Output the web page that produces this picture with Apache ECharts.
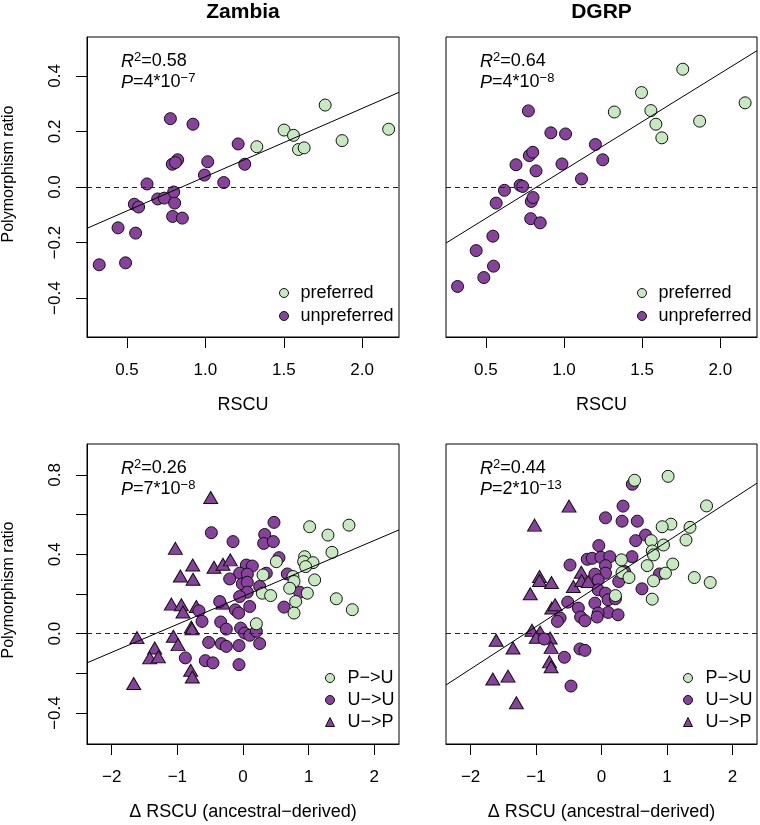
<!DOCTYPE html>
<html><head><meta charset="utf-8">
<script src="https://cdn.jsdelivr.net/npm/echarts@6/dist/echarts.min.js"></script>
<style>html,body{margin:0;padding:0;background:#fff}#c{width:760px;height:825px}</style>
</head><body><div id="c"></div><script>
// ---------------- DATA ----------------
// Top panels: RSCU vs polymorphism ratio
const zamPref = [[1.328,0.145],[1.502,0.205],[1.562,0.186],[1.594,0.135],[1.630,0.141],[1.764,0.295],[1.872,0.167],[2.169,0.208]];
const zamUnpref = [[0.777,0.246],[0.921,0.226],[1.209,0.155],[1.015,0.091],[1.251,0.082],[0.823,0.098],[0.789,0.082],[0.809,0.088],[0.994,0.043],[1.117,0.016],[0.628,0.011],[0.798,-0.018],[0.696,-0.043],[0.738,-0.040],[0.804,-0.058],[0.547,-0.062],[0.574,-0.072],[0.791,-0.106],[0.853,-0.112],[0.443,-0.147],[0.555,-0.166],[0.323,-0.280],[0.491,-0.273]];
const dgrpPref = [[1.322,0.270],[1.496,0.340],[1.556,0.275],[1.588,0.226],[1.626,0.177],[1.760,0.424],[1.868,0.237],[2.159,0.303]];
const dgrpUnpref = [[0.772,0.274],[0.916,0.195],[1.010,0.191],[1.201,0.153],[1.248,0.098],[0.778,0.113],[0.800,0.125],[0.693,0.080],[0.821,0.058],[0.987,0.083],[1.112,0.029],[0.719,0.006],[0.736,0.002],[0.619,-0.012],[0.566,-0.058],[0.791,-0.052],[0.802,-0.038],[0.787,-0.114],[0.848,-0.129],[0.545,-0.177],[0.438,-0.229],[0.549,-0.285],[0.487,-0.326],[0.319,-0.358]];
// Bottom panels: delta RSCU vs polymorphism ratio
const zamPU = [[1.015,0.539],[1.294,0.497],[1.614,0.547],[1.355,0.410],[0.939,0.388],[0.924,0.363],[1.066,0.358],[0.508,0.363],[0.954,0.338],[0.305,0.296],[1.091,0.271],[0.761,0.288],[0.777,0.263],[0.711,0.229],[0.294,0.204],[0.421,0.192],[0.980,0.204],[0.802,0.162],[1.421,0.176],[1.665,0.121],[0.777,0.104],[0.203,0.050]];
const zamUU = [[-0.482,0.509],[-0.152,0.464],[0.472,0.561],[0.330,0.500],[0.315,0.455],[0.462,0.464],[0.548,0.383],[0.051,0.346],[0.142,0.341],[-0.051,0.305],[0.066,0.300],[-0.203,0.276],[-0.010,0.251],[0.066,0.259],[0.254,0.238],[0.355,0.305],[0.675,0.301],[0.863,0.209],[0.066,0.209],[-0.051,0.187],[-0.355,0.162],[0.102,0.137],[-0.117,0.120],[-0.066,0.104],[0.624,0.134],[-0.670,0.115],[-0.624,0.062],[-0.340,0.059],[-0.254,0.023],[-0.036,0.028],[0.025,0.003],[0.102,-0.008],[0.203,0.012],[0.254,-0.050],[-0.523,-0.044],[-0.330,-0.050],[-0.254,-0.064],[-0.061,-0.060],[-0.878,-0.122],[-0.574,-0.136],[-0.457,-0.147],[-0.061,-0.156]];
const zamUP = [[-0.492,0.686],[-1.030,0.430],[-0.766,0.346],[-0.954,0.291],[-0.761,0.274],[-0.442,0.335],[-0.305,0.350],[-0.193,0.372],[-1.091,0.149],[-0.939,0.146],[-0.914,0.109],[-0.711,0.137],[-0.305,0.154],[-0.787,0.033],[-0.777,0.025],[-1.061,-0.013],[-0.990,-0.055],[-1.614,-0.020],[-1.345,-0.072],[-1.421,-0.122],[-1.289,-0.117],[-0.797,-0.184],[-0.772,-0.218],[-1.665,-0.251]];
const dgrpPU = [[0.506,0.773],[1.018,0.793],[1.605,0.644],[1.061,0.552],[0.927,0.539],[1.352,0.536],[1.291,0.472],[0.759,0.469],[0.947,0.447],[0.775,0.417],[0.795,0.397],[0.304,0.372],[0.699,0.343],[1.089,0.351],[0.314,0.308],[0.420,0.283],[0.977,0.305],[0.795,0.266],[1.418,0.283],[1.661,0.258],[0.775,0.174],[0.213,0.192]];
const dgrpUU = [[0.471,0.753],[0.329,0.643],[0.061,0.584],[0.314,0.567],[0.547,0.567],[0.673,0.497],[0.522,0.469],[-0.041,0.444],[-0.481,0.346],[-0.218,0.375],[-0.142,0.380],[-0.010,0.385],[0.127,0.388],[0.466,0.388],[0.061,0.343],[0.061,0.305],[-0.101,0.300],[-0.051,0.271],[0.263,0.263],[0.354,0.313],[0.886,0.301],[0.618,0.226],[-0.051,0.221],[0.061,0.204],[0.101,0.171],[0.213,0.176],[-0.516,0.159],[-0.101,0.154],[-0.354,0.129],[0.101,0.107],[0.253,0.095],[-0.051,0.104],[-0.066,0.084],[-0.319,0.084],[-0.253,0.065],[-0.633,0.079],[-0.673,0.062],[-0.876,-0.027],[-0.329,-0.077],[-0.253,-0.084],[-0.567,-0.119],[-0.466,-0.264]];
const dgrpUP = [[-0.496,0.643],[-1.023,0.547],[-0.947,0.288],[-0.947,0.268],[-0.765,0.258],[-1.089,0.201],[-0.430,0.238],[-0.309,0.310],[-0.304,0.268],[-0.203,0.263],[-0.759,0.129],[-0.709,0.146],[-1.063,0.017],[-0.937,0.008],[-0.997,-0.018],[-0.785,-0.022],[-0.770,-0.069],[-1.610,-0.033],[-1.352,-0.072],[-0.795,-0.142],[-0.770,-0.167],[-1.661,-0.228],[-1.428,-0.214],[-1.301,-0.348]];
// Regression fits: [intercept, slope]
const fitZamRSCU = [-0.209, 0.246];
const fitDgrpRSCU = [-0.287, 0.348];
const fitZamDelta = [0.188, 0.141];
const fitDgrpDelta = [0.250, 0.214];
// Statistics text
const panelTitles = ['Zambia', 'DGRP'];
const r2Values = ['0.58', '0.64', '0.26', '0.44'];
const pMant = ['4', '4', '7', '2'];
const pExp = ['−7', '−8', '−8', '−13'];
// Axis ranges & ticks
const topX = [0.245, 2.235], topY = [-0.54, 0.54];
const botX = [-2.376, 2.376], botY = [-0.556, 0.956];
const topXTicks = [0.5, 1.0, 1.5, 2.0];
const topYTicks = [-0.4, -0.2, 0.0, 0.2, 0.4];
const botXTicks = [-2, -1, 0, 1, 2];
const botYTicks = [-0.4, -0.2, 0.0, 0.2, 0.4, 0.6, 0.8];
const botYLabels = [-0.4, 0.0, 0.4, 0.8];

// ---------------- STYLE ----------------
const FONT = '"Liberation Sans", Arial, Helvetica, sans-serif';
const GREEN = '#c7e9c0', PURPLE = '#88419d', EDGE = '#111';
const grids = [
  {left: 87, top: 37, width: 312, height: 300},
  {left: 446, top: 37, width: 311, height: 300},
  {left: 87, top: 444, width: 312, height: 300},
  {left: 446, top: 444, width: 311, height: 300}
];
const minus = s => String(s).replace('-', '−');

function xAx(i, range, ticks, fmt, name) {
  return {
    gridIndex: i, type: 'value', min: range[0], max: range[1],
    axisLine: {show: true, onZero: false, lineStyle: {color: '#000', width: 1}},
    splitLine: {show: false},
    axisTick: {show: true, inside: false, length: 11, customValues: ticks, lineStyle: {color: '#000'}},
    axisLabel: {customValues: ticks, formatter: v => minus(fmt(v)), fontSize: 17, fontFamily: FONT, color: '#000', margin: 25},
    name: name, nameLocation: 'middle', nameGap: 59,
    nameTextStyle: {fontSize: 18, fontFamily: FONT, color: '#000'}
  };
}
function yAx(i, range, ticks, labels, showAxis, shiftPad) {
  return {
    gridIndex: i, type: 'value', min: range[0], max: range[1],
    axisLine: {show: showAxis, onZero: false, lineStyle: {color: '#000', width: 1}},
    splitLine: {show: false},
    axisTick: {show: showAxis, inside: false, length: 11, customValues: ticks, lineStyle: {color: '#000'}},
    axisLabel: {show: showAxis, customValues: labels, rotate: 90, align: 'center', verticalAlign: 'middle',
      formatter: v => minus(v.toFixed(1)), fontSize: 17, fontFamily: FONT, color: '#000', margin: 32},
    name: showAxis ? 'Polymorphism ratio' : '', nameLocation: 'middle', nameRotate: 90, nameGap: 78,
    nameTextStyle: {fontSize: 16, fontFamily: FONT, color: '#000', align: 'center', verticalAlign: 'middle',
      padding: [0, 0, 0, shiftPad]}
  };
}

function scatter(name, data, i, color, symbol, size) {
  return {
    type: 'scatter', name: name, data: data, xAxisIndex: i, yAxisIndex: i,
    symbol: symbol, symbolSize: size,
    itemStyle: {color: color, borderColor: EDGE, borderWidth: 1, opacity: 1},
    emphasis: {disabled: true}, z: 2
  };
}
function fitLine(fit, i, xr) {
  return {
    type: 'line', data: [[xr[0], fit[0] + fit[1] * xr[0]], [xr[1], fit[0] + fit[1] * xr[1]]],
    xAxisIndex: i, yAxisIndex: i, showSymbol: false, symbol: 'none', z: 4,
    lineStyle: {color: '#000', width: 1}, clip: true, silent: true,
    markLine: {silent: true, symbol: 'none', label: {show: false},
      lineStyle: {color: '#222', width: 1, type: [5, 4]}, data: [{yAxis: 0}]}
  };
}

const series = [
  scatter('unpreferred', zamUnpref, 0, PURPLE, 'circle', 12),
  scatter('preferred', zamPref, 0, GREEN, 'circle', 12),
  fitLine(fitZamRSCU, 0, topX),
  scatter('unpreferred', dgrpUnpref, 1, PURPLE, 'circle', 12),
  scatter('preferred', dgrpPref, 1, GREEN, 'circle', 12),
  fitLine(fitDgrpRSCU, 1, topX),
  scatter('U−>P', zamUP, 2, PURPLE, 'triangle', [14, 12]),
  scatter('U−>U', zamUU, 2, PURPLE, 'circle', 12),
  scatter('P−>U', zamPU, 2, GREEN, 'circle', 12),
  fitLine(fitZamDelta, 2, botX),
  scatter('U−>P', dgrpUP, 3, PURPLE, 'triangle', [14, 12]),
  scatter('U−>U', dgrpUU, 3, PURPLE, 'circle', 12),
  scatter('P−>U', dgrpPU, 3, GREEN, 'circle', 12),
  fitLine(fitDgrpDelta, 3, botX)
];

function legend(names, g, rows) {
  const right = g.left + g.width, bottom = g.top + g.height;
  const isTop = rows === 2;
  return {
    orient: 'vertical', data: names, selectedMode: false,
    left: isTop ? right - 125 : right - 79,
    top: isTop ? bottom - 59 : bottom - 81,
    itemWidth: 9, itemHeight: 9, itemGap: isTop ? 3 : 2,
    textStyle: {fontSize: 18, fontFamily: FONT, color: '#000', lineHeight: 20, padding: [0, 0, 0, isTop ? 7 : 8]},
    itemStyle: {borderColor: EDGE, borderWidth: 1}
  };
}

const graphics = [];
panelTitles.forEach((t, k) => {
  const g = grids[k];
  graphics.push({type: 'text', x: g.left + g.width / 2, y: 12,
    style: {text: t, fill: '#000', font: 'bold 21px ' + FONT, textAlign: 'center', textVerticalAlign: 'middle'}});
});
grids.forEach((g, k) => {
  const rich = {
    n: {fontSize: 18, fontFamily: FONT, lineHeight: 21, fill: '#000'},
    i: {fontSize: 18, fontFamily: FONT, fontStyle: 'italic', lineHeight: 21, fill: '#000'},
    s: {fontSize: 13, fontFamily: FONT, lineHeight: 13, verticalAlign: 'top', fill: '#000'}
  };
  graphics.push({type: 'text', x: g.left + 34, y: g.top + 14,
    style: {text: '{i|R}{s|2}{n|=' + r2Values[k] + '}\n{i|P}{n|=' + pMant[k] + '*10}{s|' + pExp[k] + '}', rich: rich}});
});

const option = {
  animation: false,
  backgroundColor: '#fff',
  grid: grids.map(g => Object.assign({show: true, borderColor: '#000', borderWidth: 1, backgroundColor: 'transparent', containLabel: false}, g)),
  xAxis: [
    xAx(0, topX, topXTicks, v => v.toFixed(1), 'RSCU'),
    xAx(1, topX, topXTicks, v => v.toFixed(1), 'RSCU'),
    xAx(2, botX, botXTicks, v => v.toFixed(0), 'Δ RSCU (ancestral−derived)'),
    xAx(3, botX, botXTicks, v => v.toFixed(0), 'Δ RSCU (ancestral−derived)')
  ],
  yAxis: [
    yAx(0, topY, topYTicks, topYTicks, true, 26),
    yAx(1, topY, topYTicks, topYTicks, false, 0),
    yAx(2, botY, botYTicks, botYLabels, true, 8),
    yAx(3, botY, botYTicks, botYLabels, false, 0)
  ],
  legend: [
    legend(['preferred', 'unpreferred'], grids[0], 2),
    legend(['preferred', 'unpreferred'], grids[1], 2),
    legend(['P−>U', 'U−>U', 'U−>P'], grids[2], 3),
    legend(['P−>U', 'U−>U', 'U−>P'], grids[3], 3)
  ],
  series: series,
  graphic: graphics
};
const chart = echarts.init(document.getElementById('c'), null, {renderer: 'canvas'});
chart.setOption(option);
</script></body></html>
